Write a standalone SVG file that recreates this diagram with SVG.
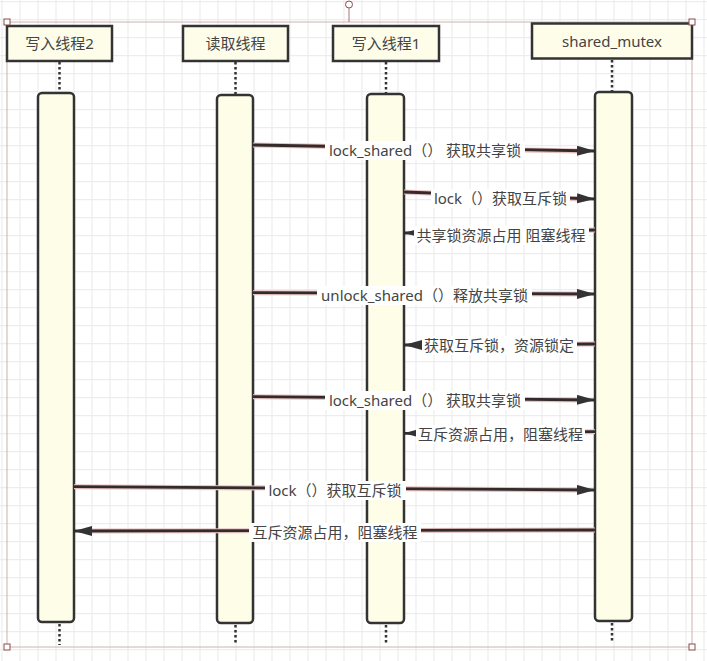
<svg xmlns="http://www.w3.org/2000/svg" width="707" height="661" viewBox="0 0 707 661">
  <defs>
    <pattern id="grid" width="18" height="18" patternUnits="userSpaceOnUse" x="1.5" y="1.2">
      <path d="M0 0.5 H18 M0.5 0 V18" fill="none" stroke="#e9e9e9" stroke-width="1"/>
    </pattern>
    <marker id="arrow" markerUnits="userSpaceOnUse" markerWidth="20" markerHeight="12" refX="18" refY="5" orient="auto">
      <path d="M0 0 L18 5 L0 10 Z" fill="#333"/>
    </marker>
    <style>
      .head { fill: #fdfdea; stroke: #333; stroke-width: 2.5; }
      .bar { fill: #fefee8; stroke: #333; stroke-width: 2.5; }
      .life { stroke: #333; stroke-width: 2.5; stroke-dasharray: 2.5 2.5; fill: none; }
      .htxt { font-family: 'Noto Sans', 'Noto Sans CJK SC', sans-serif; font-size: 15px; fill: #444; text-anchor: middle; }
      .ltxt { font-family: 'Noto Sans', 'Noto Sans CJK SC', sans-serif; font-size: 15px; fill: #444; text-anchor: middle; }
      .halo { stroke: #e4c2c2; stroke-width: 5; fill: none; }
      .msg { stroke: #342a2a; stroke-width: 2.8; fill: none; marker-end: url(#arrow); }
      .lbg { fill: #ffffff; }
      .frame { stroke: #d2b0b0; stroke-width: 1; fill: none; }
      .handle { fill: #ffffff; stroke: #8b4a4a; stroke-width: 1; }
    </style>
  </defs>

  <rect x="0" y="0" width="707" height="661" fill="#ffffff"/>
  <rect x="0" y="0" width="707" height="661" fill="url(#grid)"/>

  <!-- selection frame -->
  <g id="frame">
    <rect class="frame" x="7" y="22" width="685" height="625"/>
    <line x1="349" y1="8" x2="349" y2="22" stroke="#b07070" stroke-width="1"/>
    <circle cx="349" cy="4.5" r="3.5" class="handle"/>
  </g>

  <g id="writer2">
    <rect class="head" x="7" y="26" width="105" height="35"/>
    <text class="htxt" x="59.5" y="49">写入线程2</text>
    <line class="life" x1="59.5" y1="62" x2="59.5" y2="93"/>
    <rect class="bar" x="38" y="93" width="36" height="529" rx="4"/>
    <line class="life" x1="59.5" y1="624" x2="59.5" y2="645"/>
  </g>

  <g id="reader">
    <rect class="head" x="183" y="26" width="105" height="35"/>
    <text class="htxt" x="235.5" y="49">读取线程</text>
    <line class="life" x1="235.5" y1="62" x2="235.5" y2="95"/>
    <rect class="bar" x="217" y="95" width="36" height="528" rx="4"/>
    <line class="life" x1="235.5" y1="625" x2="235.5" y2="645"/>
  </g>

  <g id="writer1">
    <rect class="head" x="333" y="26" width="106" height="35"/>
    <text class="htxt" x="386" y="49">写入线程1</text>
    <line class="life" x1="386" y1="62" x2="386" y2="94"/>
    <rect class="bar" x="367" y="94" width="37" height="529" rx="4"/>
    <line class="life" x1="386" y1="625" x2="386" y2="645"/>
  </g>

  <g id="mutex">
    <rect class="head" x="532" y="23.5" width="160" height="35"/>
    <text class="htxt" x="612" y="47">shared_mutex</text>
    <line class="life" x1="612" y1="60" x2="612" y2="92"/>
    <rect class="bar" x="595" y="92" width="37" height="529" rx="4"/>
    <line class="life" x1="612" y1="623" x2="612" y2="643"/>
  </g>

  <!-- frame corner handles on top -->
  <g id="handles">
    <rect class="handle" x="4" y="19" width="6" height="6"/>
    <rect class="handle" x="689" y="19" width="6" height="6"/>
    <rect class="handle" x="4" y="644" width="6" height="6"/>
    <rect class="handle" x="689" y="644" width="6" height="6"/>
  </g>

  <g id="connectors">
    <!-- 1 -->
    <line class="halo" x1="253" y1="145" x2="580" y2="151"/>
    <line class="msg" x1="253" y1="145" x2="595" y2="151"/>
    <rect class="lbg" x="325" y="141" width="200" height="19"/>
    <text class="ltxt" x="425" y="155.5">lock_shared（） 获取共享锁</text>
    <!-- 2 -->
    <line class="halo" x1="404" y1="192" x2="580" y2="199"/>
    <line class="msg" x1="404" y1="192" x2="595" y2="199"/>
    <rect class="lbg" x="431" y="189" width="139" height="19"/>
    <text class="ltxt" x="500.5" y="203.5">lock（）获取互斥锁</text>
    <!-- 3 -->
    <line class="halo" x1="595" y1="230" x2="420" y2="233"/>
    <line class="msg" x1="595" y1="230" x2="404" y2="233"/>
    <rect class="lbg" x="414" y="226" width="175" height="19"/>
    <text class="ltxt" x="501" y="241">共享锁资源占用 阻塞线程</text>
    <!-- 4 -->
    <line class="halo" x1="253" y1="292.7" x2="580" y2="294"/>
    <line class="msg" x1="253" y1="292.7" x2="595" y2="294"/>
    <rect class="lbg" x="317" y="286" width="215" height="19"/>
    <text class="ltxt" x="424.5" y="301">unlock_shared（）释放共享锁</text>
    <!-- 5 -->
    <line class="halo" x1="595" y1="344" x2="420" y2="345"/>
    <line class="msg" x1="595" y1="344" x2="404" y2="345"/>
    <rect class="lbg" x="422" y="336" width="155" height="19"/>
    <text class="ltxt" x="499" y="350.5">获取互斥锁，资源锁定</text>
    <!-- 6 -->
    <line class="halo" x1="253" y1="396.7" x2="580" y2="400"/>
    <line class="msg" x1="253" y1="396.7" x2="595" y2="400"/>
    <rect class="lbg" x="325" y="391" width="200" height="19"/>
    <text class="ltxt" x="425" y="406">lock_shared（） 获取共享锁</text>
    <!-- 7 -->
    <line class="halo" x1="595" y1="431.7" x2="420" y2="433.3"/>
    <line class="msg" x1="595" y1="431.7" x2="404" y2="433.3"/>
    <rect class="lbg" x="416" y="425" width="169" height="19"/>
    <text class="ltxt" x="500.5" y="440">互斥资源占用，阻塞线程</text>
    <!-- 8 -->
    <line class="halo" x1="74" y1="486.7" x2="580" y2="490"/>
    <line class="msg" x1="74" y1="486.7" x2="595" y2="490"/>
    <rect class="lbg" x="265" y="481" width="141" height="19"/>
    <text class="ltxt" x="335" y="495.5">lock（）获取互斥锁</text>
    <!-- 9 -->
    <line class="halo" x1="595" y1="530" x2="90" y2="531"/>
    <line class="msg" x1="595" y1="530" x2="74" y2="531"/>
    <rect class="lbg" x="249" y="523" width="172" height="19"/>
    <text class="ltxt" x="335" y="537.5">互斥资源占用，阻塞线程</text>
  </g>
</svg>
